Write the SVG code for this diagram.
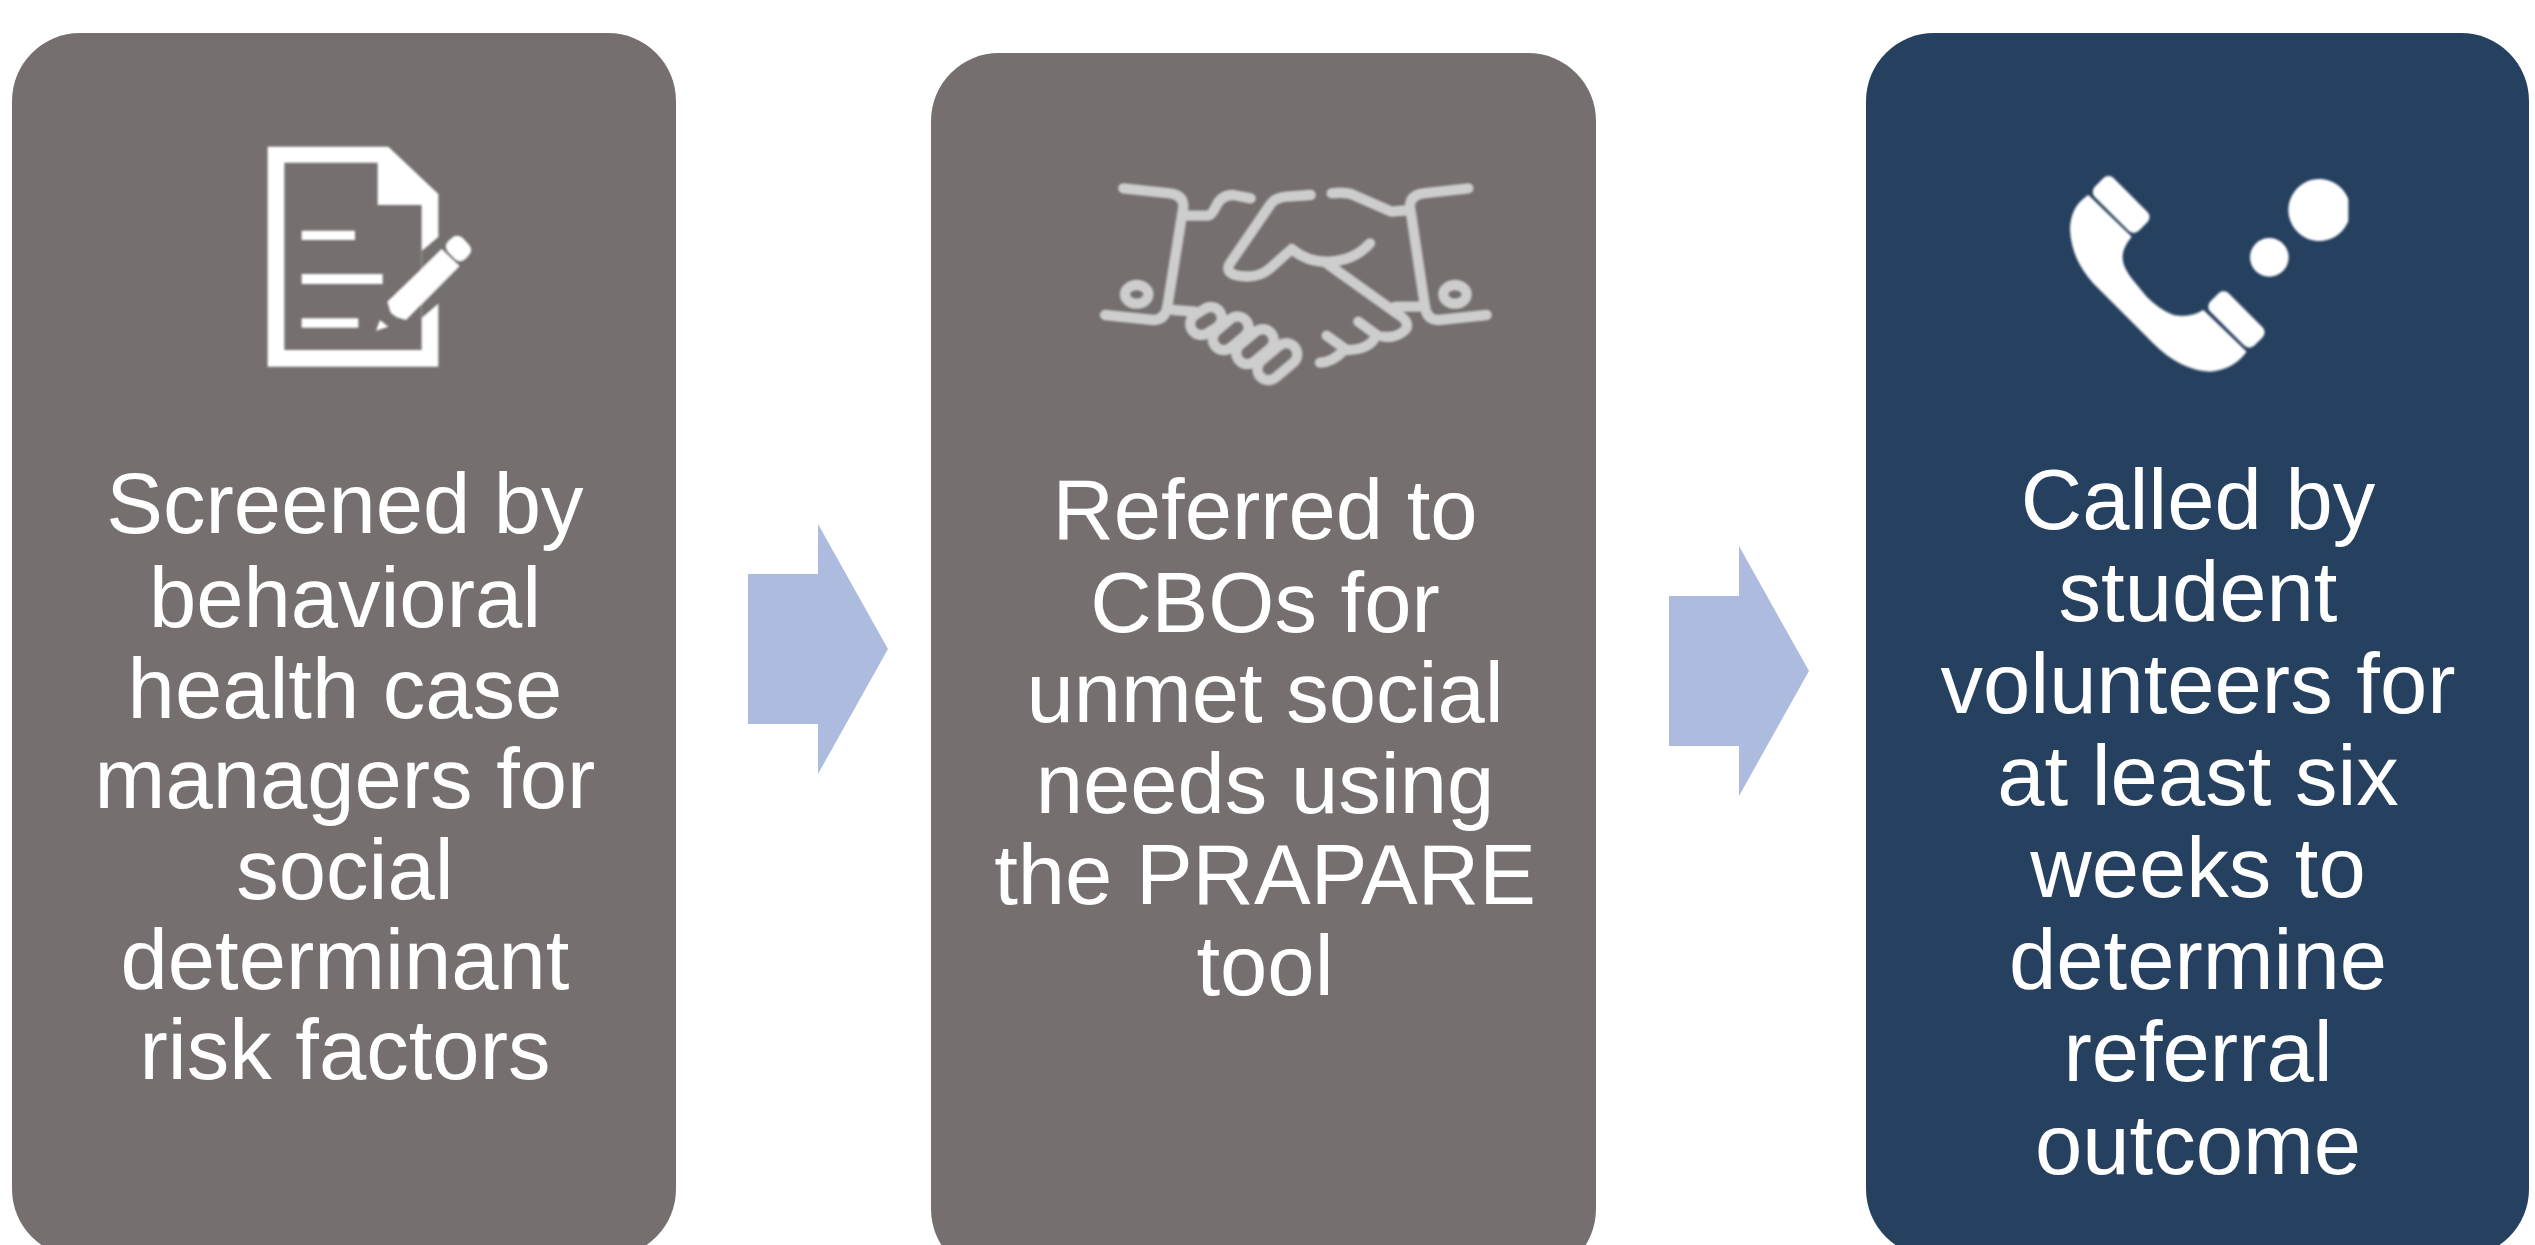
<svg xmlns="http://www.w3.org/2000/svg" width="2535" height="1245" viewBox="0 0 2535 1245">
<style>
.box{fill:#75706f}.navy{fill:#26405f}.arrow{fill:#adbbdf}
text{font-family:"Liberation Sans",Arial,sans-serif;font-size:85px;fill:#fff;text-anchor:middle}
.hs{fill:none;stroke:#cdcdcd;stroke-width:31;stroke-linecap:round;stroke-linejoin:round}
.w{fill:#fff}
</style>
<defs><filter id="soft" x="-5%" y="-5%" width="110%" height="110%"><feGaussianBlur stdDeviation="2.5"/></filter></defs>
<rect width="2535" height="1245" fill="#fff"/>
<g id="node-1">
<rect class="box" x="12" y="33" width="664" height="1224" rx="68"/>
<g transform="translate(230,120) scale(.3333)" filter="url(#soft)">
<path class="w" fill-rule="evenodd" d="M113,80H475L625,222V740H113ZM163,128V690H575V255H443V128Z"/>
<path class="box" d="M575,392L660,320L720,420L625,552L575,595Z"/>
<path class="w" d="M215,332H375V360H215ZM215,462H458V492H215ZM215,595H385V623H215Z"/>
<path class="w" d="M472,545L635,388L688,438L528,600L500,592L482,578Z"/>
<rect class="w" x="-30" y="-36" width="60" height="72" rx="22" transform="translate(686,385) rotate(-43)"/>
<path class="w" d="M450,600L475,620L438,632Z"/>
</g>
<text x="345" y="533">Screened by</text>
<text x="345" y="627">behavioral</text>
<text x="345" y="718">health case</text>
<text x="345" y="808">managers for</text>
<text x="345" y="899">social</text>
<text x="345" y="989">determinant</text>
<text x="345" y="1079">risk factors</text>
</g>
<g id="node-2">
<rect class="box" x="931" y="53" width="665" height="1224" rx="68"/>
<g transform="translate(1080,160) scale(.3333)" class="hs" filter="url(#soft)">
<path d="M130,85L270,100Q310,105 310,140L262,440Q255,480 220,480L75,465"/>
<path d="M310,167L385,167Q395,167 410,135Q425,105 460,105L512,115"/>
<path d="M692,105L620,110Q585,112 570,135L450,310Q435,335 465,345Q530,360 570,325L635,267Q680,305 740,305Q820,305 870,250"/>
<path d="M740,310L950,460Q1000,490 970,515Q945,535 910,530"/>
<path d="M835,485L890,525Q870,570 800,570L740,527"/>
<path d="M790,572Q760,605 720,608"/>
<path d="M1165,85L1030,100Q990,105 990,140L1035,440Q1040,480 1075,480L1220,465"/>
<path d="M755,100Q800,95 820,105L935,155L990,150"/>
<path d="M945,440L1025,440"/>
<path d="M280,450L345,455"/>
<ellipse cx="170" cy="403" rx="35" ry="28"/>
<ellipse cx="1125" cy="403" rx="35" ry="28"/>
<rect x="-50" y="-33" width="100" height="66" rx="33" transform="translate(378,483) rotate(-32)"/>
<rect x="-60" y="-33" width="120" height="66" rx="33" transform="translate(452,520) rotate(-40)"/>
<rect x="-63" y="-33" width="126" height="66" rx="33" transform="translate(525,560) rotate(-40)"/>
<rect x="-68" y="-33" width="136" height="66" rx="33" transform="translate(592,605) rotate(-40)"/>
</g>
<text x="1265" y="539">Referred to</text>
<text x="1265" y="632">CBOs for</text>
<text x="1265" y="722">unmet social</text>
<text x="1265" y="813">needs using</text>
<text x="1265" y="904">the PRAPARE</text>
<text x="1265" y="995">tool</text>
</g>
<g id="node-3">
<rect class="navy" x="1866" y="33" width="663" height="1224" rx="68"/>
<g transform="translate(2040,150) scale(.3333)" filter="url(#soft)">
<path class="w" d="M145,135Q90,170 90,240Q95,330 160,400L340,580Q420,660 510,665Q580,660 620,605L490,480Q450,505 400,495Q360,480 320,440L275,385Q240,340 250,305Q255,285 275,260Z"/>
<rect class="w" x="-93" y="-40" width="187" height="80" rx="22" transform="translate(243,163) rotate(45)"/>
<rect class="w" x="-93" y="-39" width="187" height="78" rx="22" transform="translate(589,508) rotate(45)"/>
<path class="w" d="M925,147A93,93 0 1 0 925,213Z"/>
<circle class="w" cx="688" cy="322" r="58"/>
</g>
<text x="2198" y="529">Called by</text>
<text x="2198" y="621">student</text>
<text x="2198" y="713">volunteers for</text>
<text x="2198" y="805">at least six</text>
<text x="2198" y="897">weeks to</text>
<text x="2198" y="989">determine</text>
<text x="2198" y="1081">referral</text>
<text x="2198" y="1174">outcome</text>
</g>
<g id="connectors">
<path class="arrow" d="M748,574H818V524L888,649L818,774V724H748Z"/>
<path class="arrow" d="M1669,596H1739V546L1809,671L1739,796V746H1669Z"/>
</g>
</svg>
